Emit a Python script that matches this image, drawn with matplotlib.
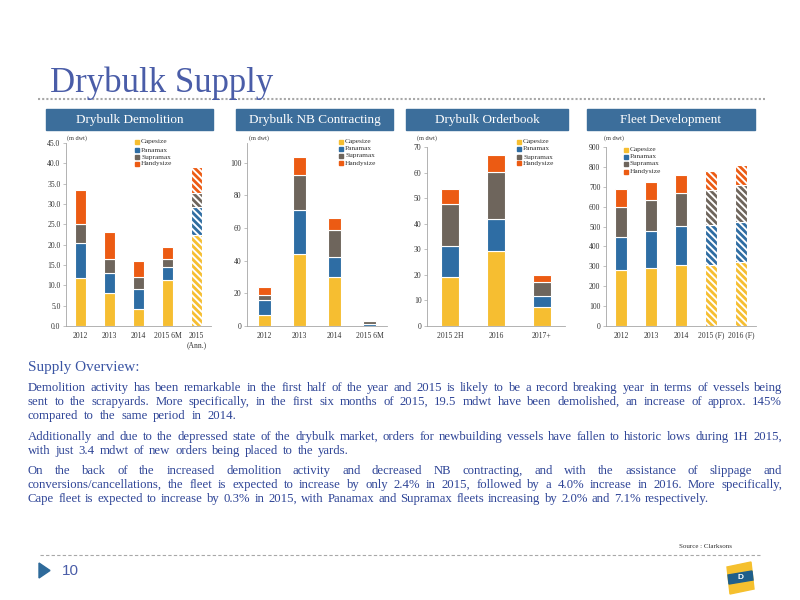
import matplotlib
matplotlib.use('Agg')
import matplotlib.pyplot as plt
from matplotlib.patches import Rectangle, Polygon
import numpy as np

plt.rcParams['font.family'] = ['Liberation Serif', 'DejaVu Serif']
plt.rcParams['hatch.linewidth'] = 2.0

W, H = 800, 600

SEGMENTS = ['Capesize', 'Panamax', 'Supramax', 'Handysize']
COLORS = ['#F6BE31', '#2E6DA4', '#6E655C', '#EC5B13']
BLUE_BOX = '#3C6E9B'
TEXT_BLUE = '#2F4597'

# Drybulk Demolition (m dwt)
demo_cats = ['2012', '2013', '2014', '2015 6M', '2015\n(Ann.)']
demo_cape = [11.8, 8.0, 4.2, 11.2, 22.4]
demo_pana = [8.5, 5.0, 5.0, 3.4, 6.8]
demo_supra = [4.8, 3.4, 2.8, 1.8, 3.6]
demo_handy = [8.3, 6.6, 4.1, 3.1, 6.2]
demo_proj = [False, False, False, False, True]

# Drybulk NB Contracting (m dwt)
nb_cats = ['2012', '2013', '2014', '2015 6M']
nb_cape = [6.5, 44.2, 30.0, 0.3]
nb_pana = [9.7, 27.0, 12.0, 1.2]
nb_supra = [2.9, 21.5, 17.0, 1.4]
nb_handy = [5.0, 10.5, 6.9, 0.5]
nb_proj = [False, False, False, False]

# Drybulk Orderbook (m dwt)
ob_cats = ['2015 2H', '2016', '2017+']
ob_cape = [19.1, 29.5, 7.5]
ob_pana = [12.2, 12.4, 4.1]
ob_supra = [16.5, 18.4, 5.8]
ob_handy = [5.7, 6.5, 2.6]
ob_proj = [False, False, False]

# Fleet Development (m dwt)
fl_cats = ['2012', '2013', '2014', '2015 (F)', '2016 (F)']
fl_cape = [280, 293, 308, 309, 322]
fl_pana = [170, 187, 194, 198, 203]
fl_supra = [147, 153, 165, 177, 185]
fl_handy = [90, 92, 91, 94, 98]
fl_proj = [False, False, False, True, True]

headers = ['Drybulk Demolition', 'Drybulk NB Contracting', 'Drybulk Orderbook', 'Fleet Development']

paragraphs = [
    ["Demolition activity has been remarkable in the first half of the year and 2015 is likely to be a record breaking year in terms of vessels being",
     "sent to the scrapyards. More specifically, in the first six months of 2015, 19.5 mdwt have been demolished, an increase of approx. 145%",
     "compared to the same period in 2014."],
    ["Additionally and due to the depressed state of the drybulk market, orders for newbuilding vessels have fallen to historic lows during 1H 2015,",
     "with just 3.4 mdwt of new orders being placed to the yards."],
    ["On the back of the increased demolition activity and decreased NB contracting, and with the assistance of slippage and",
     "conversions/cancellations, the fleet is expected to increase by only 2.4% in 2015, followed by a 4.0% increase in 2016. More specifically,",
     "Cape fleet is expected to increase by 0.3% in 2015, with Panamax and Supramax fleets increasing by 2.0% and 7.1% respectively."],
]

fig = plt.figure(figsize=(8, 6), dpi=100)
bg = fig.add_axes([0, 0, 1, 1], zorder=-1)
bg.set_xlim(0, W)
bg.set_ylim(H, 0)
bg.axis('off')


def stacked(px, cats, series, proj, ylim, yticks, fmt, width):
    l, t, r, b = px
    ax = fig.add_axes([l / W, 1 - b / H, (r - l) / W, (b - t) / H])
    x = np.arange(len(cats))
    p = np.array(proj)
    bottom = np.zeros(len(cats))
    for vals, col in zip(series, COLORS):
        vals = np.array(vals, dtype=float)
        ax.bar(x[~p], vals[~p], width, bottom=bottom[~p], color=col,
               edgecolor='white', linewidth=0.8)
        if p.any():
            ax.bar(x[p], vals[p], width, bottom=bottom[p], color='white',
                   edgecolor=col, hatch='\\\\\\\\\\', linewidth=0)
            ax.bar(x[p], vals[p], width, bottom=bottom[p], fill=False,
                   edgecolor='white', linewidth=0.8)
        bottom += vals
    ax.set_xlim(-0.5, len(cats) - 0.5)
    ax.set_ylim(*ylim)
    ax.set_yticks(yticks)
    ax.set_yticklabels([fmt % v for v in yticks])
    ax.set_xticks(x)
    ax.set_xticklabels(cats, linespacing=1.3)
    for s in ['top', 'right']:
        ax.spines[s].set_visible(False)
    for s in ['left', 'bottom']:
        ax.spines[s].set_color('#A6A6A6')
        ax.spines[s].set_linewidth(0.6)
    ax.tick_params(axis='y', length=2.5, width=0.5, color='#A6A6A6',
                   labelsize=5.5, pad=1.5, labelcolor='#333333')
    ax.tick_params(axis='x', length=0, labelsize=5.5, pad=4, labelcolor='#333333')
    ax.set_facecolor('none')
    return ax


def legend(x, ys):
    for lab, col, y in zip(SEGMENTS, COLORS, ys):
        bg.add_patch(Rectangle((x - 1.6, y - 1.6), 3.2, 3.2, color=col))
        bg.text(x + 4, y, lab, fontsize=5.3, va='center', ha='left', color='#333333')


stacked((66, 143, 211, 326), demo_cats, [demo_cape, demo_pana, demo_supra, demo_handy],
        demo_proj, (0, 45), np.arange(0, 46, 5), '%.1f', 0.4)
stacked((247, 143, 387, 326), nb_cats, [nb_cape, nb_pana, nb_supra, nb_handy],
        nb_proj, (0, 112), np.arange(0, 101, 20), '%d', 0.38)
stacked((427, 147, 565, 326), ob_cats, [ob_cape, ob_pana, ob_supra, ob_handy],
        ob_proj, (0, 70), np.arange(0, 71, 10), '%d', 0.4)
stacked((606, 147, 756, 326), fl_cats, [fl_cape, fl_pana, fl_supra, fl_handy],
        fl_proj, (0, 900), np.arange(0, 901, 100), '%d', 0.38)

legend(137, [142, 150, 157, 164])
legend(341, [142, 149, 156, 163])
legend(519, [142, 149, 157, 163])
legend(626, [150, 157, 164, 172])

for x in [67, 249, 417, 604]:
    bg.text(x, 138, '(m dwt)', fontsize=4.5, va='center', ha='left', color='#333333')

# title and header boxes
bg.text(50, 92, 'Drybulk Supply', fontsize=25, color='#4A5DA8', va='baseline')
bg.plot([38, 765], [99, 99], color='#A8A8A8', lw=1.5, ls=(0, (1, 1)))
for (x0, x1), name in zip([(46, 213), (236, 393), (406, 568), (587, 755)], headers):
    bg.add_patch(Rectangle((x0, 109), x1 - x0, 21, color=BLUE_BOX))
    bg.text((x0 + x1) / 2, 120, name, fontsize=9.5, color='white', ha='center', va='center')

# overview text, justified word by word
renderer = fig.canvas.get_renderer()


def justify(line, y, x0, x1, size=9.2):
    words = line.split()
    objs = [bg.text(0, y, w, fontsize=size, color=TEXT_BLUE, va='center', ha='left')
            for w in words]
    widths = [o.get_window_extent(renderer=renderer).width for o in objs]
    gap = (x1 - x0 - sum(widths)) / max(len(words) - 1, 1)
    x = x0
    for o, w in zip(objs, widths):
        o.set_x(x)
        x += w + gap


bg.text(28, 368, 'Supply Overview:', fontsize=11, color='#3A55A4', va='center')
line_y = [[388, 402, 416], [437, 451], [471, 485, 499]]
line_end = [[782, 782, 236], [782, 349], [782, 782, 709]]
for lines, ys, ends in zip(paragraphs, line_y, line_end):
    for line, y, e in zip(lines, ys, ends):
        justify(line, y, 28, e)

# footer
bg.text(679, 547, 'Source : Clarksons', fontsize=5, color='#333333', va='center')
bg.plot([40, 760], [555, 555], color='#A8A8A8', lw=0.8, ls=(0, (3, 2)))
bg.add_patch(Polygon([(39, 563), (50, 570.5), (39, 578)], color='#2E6A9A'))
bg.text(62, 571, '10', fontsize=11, color='#4A5DA8', va='center', family='Liberation Sans')
bg.add_patch(Polygon([(727, 567), (751, 562), (754, 589), (730, 594)], color='#F5C02E'))
bg.add_patch(Polygon([(728, 575), (752, 571), (753, 580), (729, 584)], color='#1F5F8B'))
bg.text(740.5, 577.5, 'D', fontsize=6, color='white', ha='center', va='center',
        weight='bold', family='Liberation Sans')

fig.savefig('out.png', dpi=100)
